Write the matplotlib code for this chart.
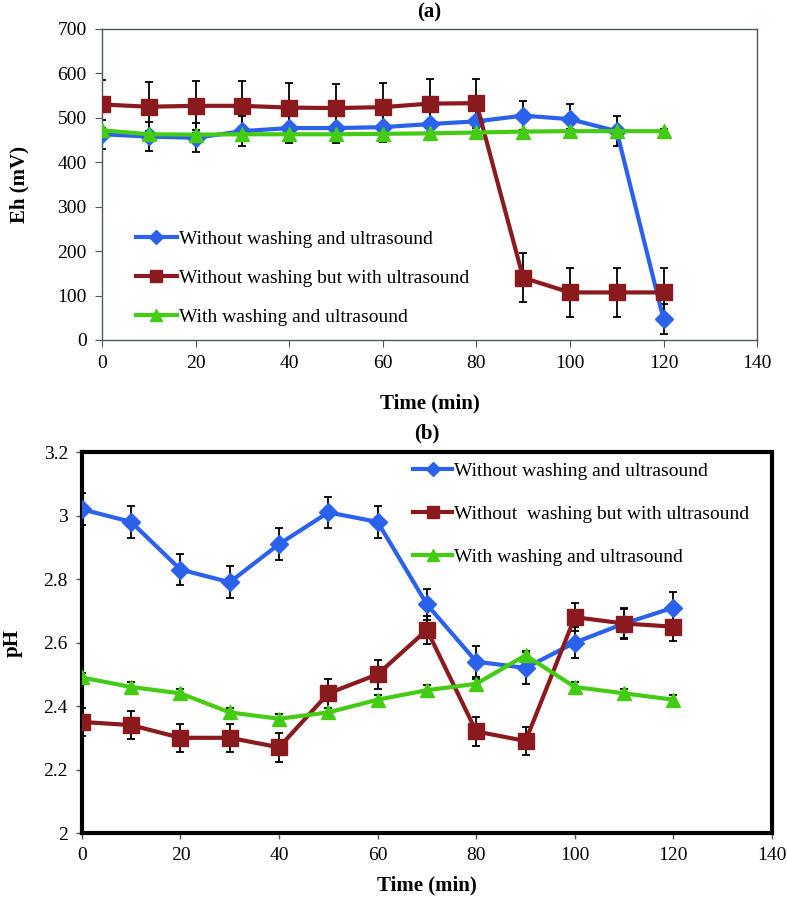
import matplotlib
matplotlib.use("Agg")
import matplotlib.pyplot as plt
import numpy as np

plt.rcParams['font.family'] = ['Liberation Serif', 'DejaVu Serif']

time = [0, 10, 20, 30, 40, 50, 60, 70, 80, 90, 100, 110, 120]

labels_a = ["Without washing and ultrasound",
            "Without washing but with ultrasound",
            "With washing and ultrasound"]
labels_b = ["Without washing and ultrasound",
            "Without  washing but with ultrasound",
            "With washing and ultrasound"]

eh_blue = [463, 458, 455, 470, 477, 477, 479, 486, 492, 505, 497, 470, 47]
eh_blue_err = [33] * 13
eh_red = [530, 525, 527, 527, 523, 522, 524, 532, 533, 140, 107, 107, 107]
eh_red_err = [55] * 13
eh_green = [472, 463, 462, 463, 463, 463, 464, 465, 467, 469, 470, 470, 470]
eh_green_err = [4] * 13

ph_blue = [3.02, 2.98, 2.83, 2.79, 2.91, 3.01, 2.98, 2.72, 2.54, 2.52, 2.60, 2.66, 2.71]
ph_blue_err = [0.05] * 13
ph_red = [2.35, 2.34, 2.30, 2.30, 2.27, 2.44, 2.50, 2.64, 2.32, 2.29, 2.68, 2.66, 2.65]
ph_red_err = [0.045] * 13
ph_green = [2.49, 2.46, 2.44, 2.38, 2.36, 2.38, 2.42, 2.45, 2.47, 2.56, 2.46, 2.44, 2.42]
ph_green_err = [0.015] * 13

c_blue = '#2a62ec'
c_red = '#8b1a1e'
c_green = '#44cc14'

fig = plt.figure(figsize=(7.87, 8.97), dpi=100)
ax1 = fig.add_axes([0.1296, 0.621, 0.962 - 0.1296, 0.9677 - 0.621])
ax2 = fig.add_axes([0.104, 0.0713, 0.981 - 0.104, 0.496 - 0.0713])

def draw(ax, series, labels):
    for (y, e, c, m, ms), lab in zip(series, labels):
        ax.errorbar(time, y, yerr=e, fmt='none', ecolor='black', elinewidth=1.3,
                    capsize=3, capthick=1.3, zorder=2)
    for (y, e, c, m, ms), lab in zip(series, labels):
        ax.plot(time, y, color=c, lw=3, marker=m, ms=ms, mfc=c, mec=c,
                label=lab, zorder=3)

series_a = [(eh_blue, eh_blue_err, c_blue, 'D', 9),
            (eh_red, eh_red_err, c_red, 's', 11),
            (eh_green, eh_green_err, c_green, '^', 10)]
series_b = [(ph_blue, ph_blue_err, c_blue, 'D', 9),
            (ph_red, ph_red_err, c_red, 's', 11),
            (ph_green, ph_green_err, c_green, '^', 10)]

# (a)
draw(ax1, series_a, labels_a)
ax1.set_xlim(0, 140)
ax1.set_ylim(0, 700)
ax1.set_xticks(range(0, 141, 20))
ax1.set_yticks(range(0, 701, 100))
for s in ax1.spines.values():
    s.set_color('#4a5a60')
    s.set_linewidth(1.0)
ax1.tick_params(direction='out', length=5, color='#4a5a60', labelsize=14, pad=6)
ax1.set_xlabel('Time (min)', fontsize=15, fontweight='bold', labelpad=15)
ax1.set_ylabel('Eh (mV)', fontsize=15, fontweight='bold', labelpad=20)
ax1.set_title('(a)', fontsize=15, fontweight='bold', pad=8)
ax1.legend(loc='lower left', bbox_to_anchor=(0.04, 0.02), frameon=False,
           fontsize=14, handlelength=2.1, handletextpad=0.1, labelspacing=1.1,
           borderaxespad=0, markerscale=0.8)

# (b)
draw(ax2, series_b, labels_b)
ax2.set_xlim(0, 140)
ax2.set_ylim(2, 3.2)
ax2.set_xticks(range(0, 141, 20))
ax2.set_yticks([2, 2.2, 2.4, 2.6, 2.8, 3, 3.2])
ax2.set_yticklabels(['2', '2.2', '2.4', '2.6', '2.8', '3', '3.2'])
for s in ax2.spines.values():
    s.set_color('black')
    s.set_linewidth(3.0)
ax2.tick_params(direction='out', length=4, width=1, color='#4a5a60', labelsize=14, pad=6)
ax2.set_xlabel('Time (min)', fontsize=15, fontweight='bold', labelpad=8)
ax2.set_ylabel('pH', fontsize=15, fontweight='bold', labelpad=15)
ax2.set_title('(b)', fontsize=15, fontweight='bold', pad=10)
ax2.legend(loc='upper left', bbox_to_anchor=(0.469, 0.993), frameon=False,
           fontsize=14, handlelength=2.0, handletextpad=0.1, labelspacing=1.3,
           borderaxespad=0, markerscale=0.8)

fig.savefig('out.png', dpi=100)
